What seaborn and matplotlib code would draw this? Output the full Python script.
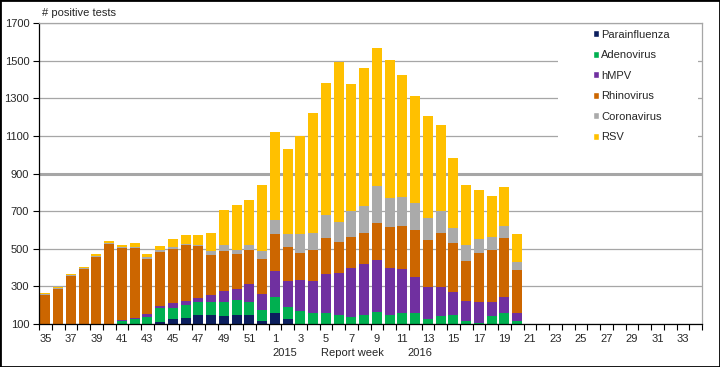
import numpy as np
import pandas as pd
import seaborn as sns
import matplotlib.pyplot as plt
from matplotlib.patches import Patch, Rectangle

# report weeks 35-52 (2015) and 1-34 (2016)
weeks = [str(w) for w in range(35, 53)] + [str(w) for w in range(1, 35)]
data_weeks = weeks[:38]  # data up to week 20 of 2016

parainfluenza = [25, 25, 25, 25, 25, 25, 30, 30, 35, 110, 126, 131, 146, 146, 140, 146, 146, 115,
                 161, 125, 95, 90, 90, 85, 80, 85, 85, 80, 80, 80, 75, 75, 75, 70, 70, 70, 70, 65]
adenovirus = [35, 35, 35, 35, 35, 35, 84, 96, 104, 75, 58, 72, 69, 71, 76, 80, 71, 61,
              85, 67, 74, 67, 70, 63, 55, 65, 79, 70, 77, 77, 50, 68, 73, 48, 37, 72, 90, 51]
hmpv = [5, 5, 5, 5, 5, 5, 9, 8, 12, 9, 28, 21, 23, 35, 57, 59, 97, 85,
        137, 138, 165, 171, 206, 225, 261, 271, 278, 246, 237, 195, 170, 155, 123, 102, 112, 77, 82, 44]
rhinovirus = [190, 222, 292, 327, 390, 458, 379, 368, 296, 291, 286, 294, 274, 213, 216, 185, 181, 182,
              197, 181, 145, 165, 192, 162, 168, 161, 195, 221, 227, 248, 251, 284, 261, 217, 260, 277, 315, 227]
coronavirus = [7, 6, 5, 4, 4, 7, 9, 7, 9, 9, 10, 9, 10, 25, 30, 25, 27, 44,
               74, 65, 97, 92, 124, 108, 138, 147, 198, 151, 152, 141, 119, 120, 76, 83, 72, 66, 63, 42]
rsv = [5, 5, 5, 7, 15, 9, 11, 21, 14, 21, 42, 44, 53, 95, 187, 236, 235, 352,
       466, 454, 524, 637, 701, 849, 673, 731, 731, 733, 652, 569, 543, 458, 375, 319, 261, 221, 207, 152]

series = ['Parainfluenza', 'Adenovirus', 'hMPV', 'Rhinovirus', 'Coronavirus', 'RSV']
colors = ['#0c1f5e', '#00b050', '#7030a0', '#cc6600', '#aaaaaa', '#ffc000']

df = pd.DataFrame({'week': data_weeks, 'Parainfluenza': parainfluenza, 'Adenovirus': adenovirus,
                   'hMPV': hmpv, 'Rhinovirus': rhinovirus, 'Coronavirus': coronavirus, 'RSV': rsv})
cum = df[series].cumsum(axis=1)
cum['week'] = df['week']

sns.set_style('white')
plt.rcParams['font.family'] = ['Liberation Sans', 'DejaVu Sans']

fig = plt.figure(figsize=(7.2, 3.67), dpi=100)
ax = fig.add_axes([39 / 720, 1 - 324 / 367, 663 / 720, 301 / 367])

# stacked bars: draw cumulative totals from the top series down
for name, color in reversed(list(zip(series, colors))):
    sns.barplot(data=cum, x='week', y=name, order=weeks, color=color, saturation=1,
                width=0.78, errorbar=None, linewidth=0, ax=ax, zorder=2)

ax.set_xlim(-0.5, len(weeks) - 0.5)
ax.set_ylim(100, 1700)
ax.set_yticks(range(100, 1701, 200))
ax.set_xlabel('')
ax.set_ylabel('')

ax.set_axisbelow(True)
ax.grid(axis='y', color='#a6a6a6', lw=0.9)
ax.axhline(900, color='#a6a6a6', lw=2.2, zorder=0.6)
# white box behind legend
ax.add_patch(Rectangle((0.783, 0.505), 0.211, 0.49, transform=ax.transAxes,
                       facecolor='white', edgecolor='none', zorder=0.8))

ax.set_xticks(range(0, len(weeks), 2))
ax.set_xticklabels(weeks[::2])
ax.set_xticks(np.arange(-0.5, len(weeks), 1), minor=True)
ax.tick_params(axis='x', which='major', length=0, pad=7, labelsize=8)
ax.tick_params(axis='x', which='minor', bottom=True, length=4, width=0.8, color='black', direction='out')
ax.tick_params(axis='y', left=True, length=4, width=0.8, color='black', direction='out', pad=3, labelsize=8)

for s in ['left', 'bottom']:
    ax.spines[s].set_color('black')
    ax.spines[s].set_linewidth(0.9)
for s in ['top', 'right']:
    ax.spines[s].set_color('#a6a6a6')
    ax.spines[s].set_linewidth(0.9)

handles = [Patch(facecolor=c, label=s) for s, c in zip(series, colors)]
ax.legend(handles=handles, loc='upper left', bbox_to_anchor=(0.835, 0.978), frameon=False,
          fontsize=8, handlelength=0.6, handleheight=0.6, handletextpad=0.15,
          labelspacing=0.95, borderaxespad=0, borderpad=0)

fig.text(42 / 720, 1 - 13 / 367, '# positive tests', ha='left', va='center', fontsize=8)
fig.text(285 / 720, 1 - 353 / 367, '2015', ha='center', va='center', fontsize=8)
fig.text(352 / 720, 1 - 353 / 367, 'Report week', ha='center', va='center', fontsize=8)
fig.text(420 / 720, 1 - 353 / 367, '2016', ha='center', va='center', fontsize=8)

fig.patches.append(Rectangle((0, 0), 1, 1, transform=fig.transFigure, fill=False,
                             edgecolor='black', lw=2))

fig.savefig('out.png', dpi=100)
